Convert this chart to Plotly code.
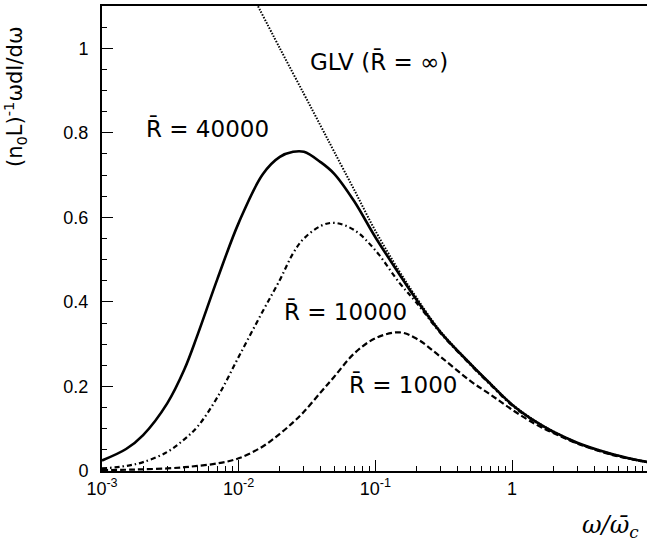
import plotly.graph_objects as go

# omega / omega_c grid at which the curves were read
omega = [0.001, 0.0015, 0.002, 0.003, 0.004, 0.005, 0.007, 0.01, 0.015, 0.02,
         0.025, 0.03, 0.04, 0.05, 0.07, 0.1, 0.15, 0.2, 0.3, 0.5, 0.7, 1,
         1.5, 2, 3, 5, 7, 10]

# R = 40000 (solid)
r40000 = [0.025, 0.052, 0.085, 0.160, 0.240, 0.322, 0.455, 0.587, 0.702, 0.743,
          0.755, 0.755, 0.730, 0.703, 0.638, 0.553, 0.465, 0.405, 0.328, 0.252,
          0.205, 0.157, 0.116, 0.093, 0.067, 0.043, 0.031, 0.021]

# R = 10000 (dash-dot)
r10000 = [0.006, 0.012, 0.021, 0.045, 0.075, 0.105, 0.175, 0.270, 0.378, 0.452,
          0.515, 0.550, 0.580, 0.587, 0.570, 0.522, 0.445, 0.398, 0.326, 0.250,
          0.203, 0.155, 0.115, 0.092, 0.066, 0.042, 0.030, 0.020]

# R = 1000 (dashed)
r1000 = [0.002, 0.003, 0.004, 0.006, 0.009, 0.012, 0.018, 0.030, 0.058, 0.088,
         0.115, 0.140, 0.187, 0.223, 0.278, 0.314, 0.328, 0.313, 0.270, 0.212,
         0.180, 0.145, 0.110, 0.090, 0.065, 0.041, 0.030, 0.020]

# GLV, R = infinity (dotted)
glv_omega = [0.0126, 0.02, 0.03, 0.04, 0.05, 0.07, 0.1, 0.15, 0.2, 0.3, 0.5,
             0.7, 1, 1.5, 2, 3, 5, 7, 10]
glv = [1.125, 1.000, 0.892, 0.815, 0.755, 0.665, 0.568, 0.472, 0.410, 0.330,
       0.253, 0.206, 0.158, 0.117, 0.094, 0.067, 0.043, 0.031, 0.021]

fig = go.Figure()
fig.add_trace(go.Scatter(x=glv_omega, y=glv, mode="lines", line_shape="spline",
                         line=dict(color="black", width=2, dash="1.5px,1.5px")))
fig.add_trace(go.Scatter(x=omega, y=r1000, mode="lines", line_shape="spline",
                         line=dict(color="black", width=2.2, dash="6px,3px")))
fig.add_trace(go.Scatter(x=omega, y=r10000, mode="lines", line_shape="spline",
                         line=dict(color="black", width=2.2, dash="5px,3px,1.5px,3px")))
fig.add_trace(go.Scatter(x=omega, y=r40000, mode="lines", line_shape="spline",
                         line=dict(color="black", width=2.6)))

lab_font = dict(family="DejaVu Sans", size=23, color="black")
labels = [
    (0.194, 0.737, "R\u0304 = 40000"),
    (0.446, 0.342, "R\u0304 = 10000"),
    (0.552, 0.185, "R\u0304 = 1000"),
    (0.508, 0.880, "GLV (R\u0304 = \u221e)"),
]
for lx, ly, txt in labels:
    fig.add_annotation(x=lx, y=ly, xref="paper", yref="paper", showarrow=False,
                       xanchor="center", yanchor="middle", text=txt, font=lab_font)

# axis titles
fig.add_annotation(x=-0.16, y=0.806, xref="paper", yref="paper", showarrow=False,
                   xanchor="center", yanchor="middle", textangle=-90,
                   text="(n<sub>0</sub>L)<sup>-1</sup>\u03c9dI/d\u03c9",
                   font=dict(family="DejaVu Sans", size=21, color="black"))
fig.add_annotation(x=0.877, y=-0.12, xref="paper", yref="paper", showarrow=False,
                   xanchor="left", yanchor="middle",
                   text="<i>\u03c9/\u03c9\u0304<sub>c</sub></i>",
                   font=dict(family="DejaVu Serif", size=24, color="black"))

fig.update_xaxes(type="log", range=[-3, 0.987],
                 tickvals=[0.001, 0.01, 0.1, 1],
                 ticktext=["10<sup>-3</sup>", "10<sup>-2</sup>", "10<sup>-1</sup>", "1"],
                 ticks="inside", ticklen=11, tickwidth=1.2, tickcolor="black",
                 minor=dict(ticks="inside", ticklen=5, dtick="D1", tickcolor="black",
                            showgrid=False),
                 showline=True, linewidth=2, linecolor="black", mirror=True,
                 showgrid=False, zeroline=False, automargin=False,
                 tickfont=dict(family="Liberation Sans", size=18, color="black"))
fig.update_yaxes(range=[0, 1.1], tickvals=[0, 0.2, 0.4, 0.6, 0.8, 1],
                 ticktext=["0", "0.2", "0.4", "0.6", "0.8", "1"],
                 ticks="inside", ticklen=11, tickwidth=1.2, tickcolor="black",
                 minor=dict(ticks="inside", ticklen=5, dtick=0.05, tickcolor="black",
                            showgrid=False),
                 showline=True, linewidth=2, linecolor="black", mirror=False,
                 showgrid=False, zeroline=False, ticklabelstandoff=8, automargin=False,
                 tickfont=dict(family="Liberation Sans", size=18, color="black"))

fig.update_layout(width=647, height=546, showlegend=False,
                  margin=dict(l=102, r=0, t=6, b=75, autoexpand=False),
                  plot_bgcolor="white", paper_bgcolor="white")

# page has a default 8px body margin; drop it so the figure fills the window
fig.write_html("out.html", config={"displayModeBar": False},
               post_script="document.body.style.margin='0';"
                           "document.body.style.overflow='hidden';")
